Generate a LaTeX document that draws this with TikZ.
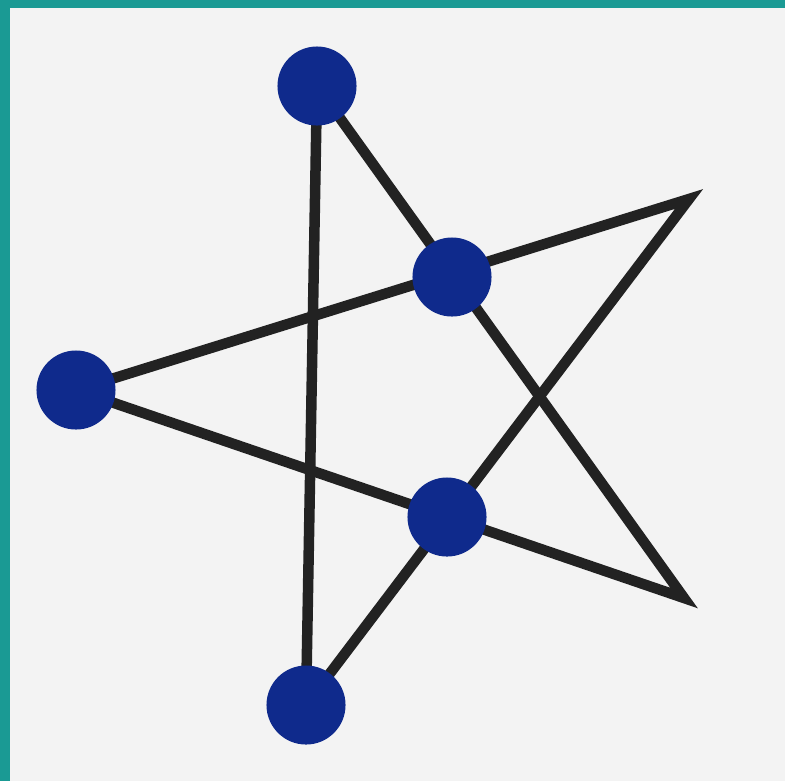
\documentclass[tikz,border=0pt]{standalone}
\usetikzlibrary{backgrounds}
\definecolor{tealframe}{HTML}{1A9A94}
\definecolor{paper}{HTML}{F3F3F3}
\definecolor{discblue}{HTML}{0F2A8C}
\definecolor{ink}{HTML}{222222}
\begin{document}
\begin{tikzpicture}[x=0.01cm,y=-0.01cm,
  disc/.style={circle,fill=discblue,minimum size=0.79cm,inner sep=0pt},
  edge/.style={draw=ink,line width=0.105cm,miter limit=10}]
  \useasboundingbox (0,0) rectangle (785,781);
  % star points and counters
  \coordinate (tipU) at (689,199);
  \coordinate (tipL) at (684,598);
  \node[disc] (top) at (317,86) {};
  \node[disc] (left) at (76,390) {};
  \node[disc] (bottom) at (306,705) {};
  \node[disc] (midU) at (452,277) {};
  \node[disc] (midL) at (447,517) {};
  \begin{pgfonlayer}{background}
    \fill[paper] (0,0) rectangle (785,781);
    \fill[tealframe] (0,0) rectangle (10,781);
    \fill[tealframe] (0,0) rectangle (785,8);
    \draw[edge] (left.center) -- (tipU) -- (bottom.center);
    \draw[edge] (top.center) -- (tipL) -- (left.center);
    \draw[edge] (top.center) -- (bottom.center);
  \end{pgfonlayer}
\end{tikzpicture}
\end{document}
